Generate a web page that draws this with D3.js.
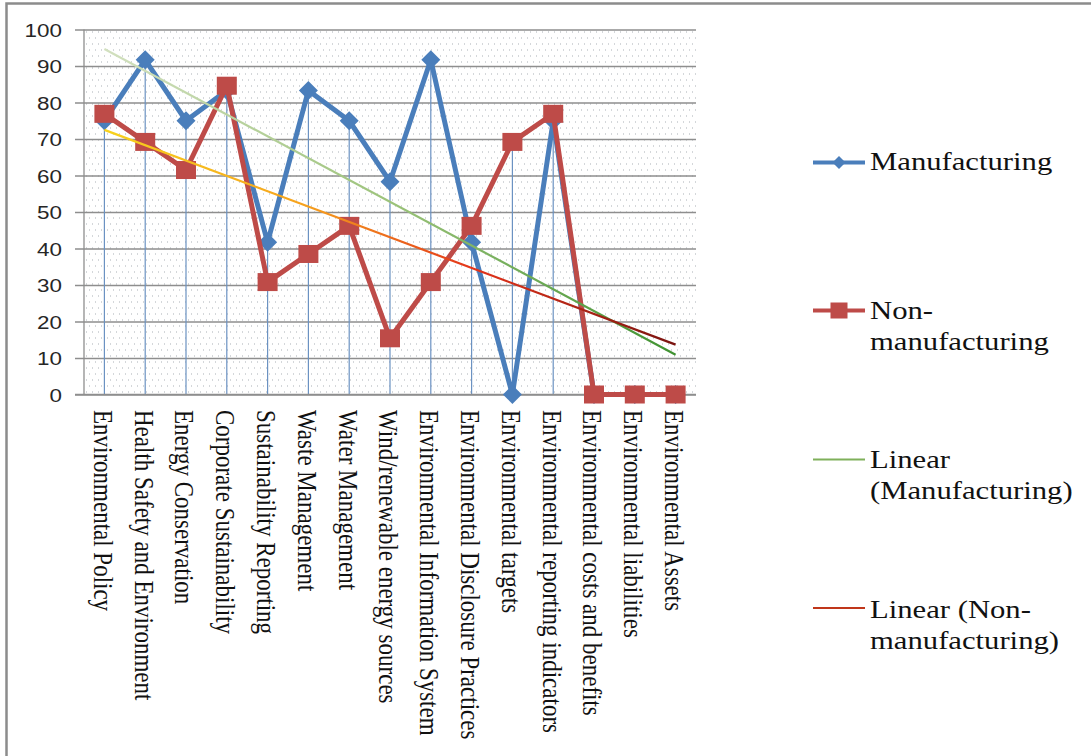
<!DOCTYPE html>
<html>
<head>
<meta charset="utf-8">
<script src="https://cdn.jsdelivr.net/npm/d3@7"></script>
<style>
  html, body { margin: 0; padding: 0; background: #ffffff; }
  svg { display: block; }
</style>
</head>
<body>
<svg id="chart" width="1091" height="756"></svg>
<script>
// Disclosure topics on the category axis
const categories = [
  "Environmental Policy",
  "Health Safety and Environment",
  "Energy Conservation",
  "Corporate Sustainability",
  "Sustainability Reporting",
  "Waste Management",
  "Water Management",
  "Wind/renewable energy sources",
  "Environmental Information System",
  "Environmental Disclosure Practices",
  "Environmental targets",
  "Environmental reporting indicators",
  "Environmental costs and benefits",
  "Environmental liabilities",
  "Environmental Assets"
];

// Percentage of firms disclosing each topic
const manufacturing = [75, 91.7, 75, 83.3, 41.7, 83.3, 75, 58.3, 91.7, 41.7, 0, 75, 0, 0, 0];
const nonManufacturing = [76.9, 69.2, 61.5, 84.6, 30.8, 38.5, 46.2, 15.4, 30.8, 46.2, 69.2, 76.9, 0, 0, 0];

const yTicks = [0, 10, 20, 30, 40, 50, 60, 70, 80, 90, 100];

const legendLabels = {
  manufacturing: ["Manufacturing"],
  nonManufacturing: ["Non-", "manufacturing"],
  linearManufacturing: ["Linear", "(Manufacturing)"],
  linearNonManufacturing: ["Linear (Non-", "manufacturing)"]
};

// ---- layout ----
const plot = { left: 84, right: 696, top: 29.5, bottom: 394.5 };
const SX = 1.18; // horizontal text stretch

const svg = d3.select("#chart");

const x = d3.scalePoint().domain(categories).range([plot.left, plot.right]).padding(0.5);
const y = d3.scaleLinear().domain([0, 100]).range([plot.bottom, plot.top]);

const defs = svg.append("defs");

// dotted fill of the plot area
const pat = defs.append("pattern")
  .attr("id", "dots")
  .attr("patternUnits", "userSpaceOnUse")
  .attr("x", plot.left).attr("y", plot.top)
  .attr("width", 6).attr("height", 12);
pat.append("rect").attr("width", 6).attr("height", 12).attr("fill", "#ffffff");
pat.append("rect").attr("x", 2).attr("y", 2).attr("width", 1).attr("height", 1).attr("fill", "#a9aeb4");
pat.append("rect").attr("x", 5).attr("y", 8).attr("width", 1).attr("height", 1).attr("fill", "#a9aeb4");

// least-squares trend over the category index
function linearFit(vals) {
  const n = vals.length;
  const xm = d3.mean(vals, (_, i) => i);
  const ym = d3.mean(vals);
  let sxy = 0, sxx = 0;
  vals.forEach((v, i) => { sxy += (i - xm) * (v - ym); sxx += (i - xm) * (i - xm); });
  const slope = sxy / sxx;
  const icpt = ym - slope * xm;
  return [0, n - 1].map(i => ({ i, v: icpt + slope * i }));
}

const xFirst = x(categories[0]);
const xLast = x(categories[categories.length - 1]);

function gradient(id, stops) {
  const g = defs.append("linearGradient")
    .attr("id", id)
    .attr("gradientUnits", "userSpaceOnUse")
    .attr("x1", xFirst).attr("x2", xLast).attr("y1", 0).attr("y2", 0);
  stops.forEach(s => g.append("stop").attr("offset", s[0]).attr("stop-color", s[1]));
}
gradient("trendGreen", [[0, "#d2e0bf"], [0.5, "#9cc37a"], [1, "#3f9231"]]);
gradient("trendRed", [[0, "#f7d21c"], [0.35, "#f6a21e"], [0.65, "#e3331a"], [1, "#7a1410"]]);

// outer frame
svg.append("rect")
  .attr("x", 6.5).attr("y", 3.5)
  .attr("width", 1200).attr("height", 900)
  .attr("fill", "#ffffff")
  .attr("stroke", "#8c8c8c").attr("stroke-width", 2.5);

// plot background
svg.append("rect")
  .attr("x", plot.left).attr("y", plot.top)
  .attr("width", plot.right - plot.left).attr("height", plot.bottom - plot.top)
  .attr("fill", "url(#dots)");

// value axis with gridlines
const yAxis = svg.append("g")
  .attr("transform", `translate(${plot.left},0)`)
  .call(d3.axisLeft(y).tickValues(yTicks).tickSizeOuter(0).tickPadding(0));
yAxis.select(".domain").remove();
yAxis.selectAll(".tick line")
  .attr("x1", -9).attr("x2", plot.right - plot.left)
  .attr("stroke", "#8e8e8e").attr("stroke-width", 1.3);
yAxis.selectAll(".tick text")
  .attr("x", -22 / SX)
  .attr("dy", "0.36em")
  .attr("transform", `scale(${SX},1)`)
  .attr("font-family", "'Liberation Sans', Arial, sans-serif")
  .attr("font-size", 19)
  .attr("fill", "#262626");

svg.append("line")
  .attr("x1", plot.left).attr("x2", plot.left)
  .attr("y1", plot.top).attr("y2", plot.bottom)
  .attr("stroke", "#8e8e8e").attr("stroke-width", 1.3);

// drop lines from the higher value to the axis
const drops = categories.map((c, i) => ({ c, top: Math.max(manufacturing[i], nonManufacturing[i]) }))
  .filter(d => d.top > 0);
svg.append("g").selectAll("line").data(drops).join("line")
  .attr("x1", d => x(d.c)).attr("x2", d => x(d.c))
  .attr("y1", d => y(d.top)).attr("y2", y(0))
  .attr("stroke", "#6b92c2").attr("stroke-width", 1.2);

// category axis
const xAxis = svg.append("g")
  .attr("transform", `translate(0,${plot.bottom})`)
  .call(d3.axisBottom(x).tickSize(0).tickPadding(0));
xAxis.select(".domain")
  .attr("d", `M${plot.left - 9},0H${plot.right}`)
  .attr("stroke", "#8e8e8e").attr("stroke-width", 1.3);
xAxis.selectAll(".tick text")
  .attr("x", null).attr("y", null)
  .attr("dy", "0.41em")
  .attr("text-anchor", "start")
  .attr("transform", `translate(0,15.5) scale(${SX},1) rotate(90)`)
  .attr("font-family", "'Liberation Serif', 'Times New Roman', serif")
  .attr("font-size", 23)
  .attr("fill", "#111");

// series
const line = d3.line().x((d, i) => x(categories[i])).y(d => y(d));

const blue = "#4a7ebb", red = "#be4b48";

svg.append("path").datum(manufacturing)
  .attr("d", line).attr("fill", "none")
  .attr("stroke", blue).attr("stroke-width", 5).attr("stroke-linejoin", "round");
svg.append("g").selectAll("path").data(manufacturing).join("path")
  .attr("transform", (d, i) => `translate(${x(categories[i])},${y(d)})`)
  .attr("d", "M0,-9.5L9.5,0L0,9.5L-9.5,0Z")
  .attr("fill", blue);

svg.append("path").datum(nonManufacturing)
  .attr("d", line).attr("fill", "none")
  .attr("stroke", red).attr("stroke-width", 5).attr("stroke-linejoin", "round");
svg.append("g").selectAll("rect").data(nonManufacturing).join("rect")
  .attr("x", (d, i) => x(categories[i]) - 10)
  .attr("y", d => y(d) - 9)
  .attr("width", 20).attr("height", 18)
  .attr("fill", red);

// linear trend lines
const trendLine = d3.line().x(d => x(categories[d.i])).y(d => y(d.v));
svg.append("path").datum(linearFit(manufacturing))
  .attr("d", trendLine).attr("fill", "none")
  .attr("stroke", "url(#trendGreen)").attr("stroke-width", 2.2);
svg.append("path").datum(linearFit(nonManufacturing))
  .attr("d", trendLine).attr("fill", "none")
  .attr("stroke", "url(#trendRed)").attr("stroke-width", 2.2);

// legend
const legend = svg.append("g");
const lx0 = 813, lx1 = 865, tx = 870, lineGap = 31.5;

function legendText(lines, baseline) {
  lines.forEach((t, k) => {
    legend.append("text")
      .attr("transform", `translate(${tx},${baseline + k * lineGap}) scale(${SX},1)`)
      .attr("font-family", "'Liberation Serif', 'Times New Roman', serif")
      .attr("font-size", 26)
      .attr("fill", "#111")
      .text(t);
  });
}

// Manufacturing
legend.append("line").attr("x1", lx0).attr("x2", lx1).attr("y1", 162.5).attr("y2", 162.5)
  .attr("stroke", blue).attr("stroke-width", 4);
legend.append("path").attr("transform", "translate(839,162.5)")
  .attr("d", "M0,-6.5L6.5,0L0,6.5L-6.5,0Z").attr("fill", blue);
legendText(legendLabels.manufacturing, 169.5);

// Non-manufacturing
legend.append("line").attr("x1", lx0).attr("x2", lx1).attr("y1", 310.5).attr("y2", 310.5)
  .attr("stroke", red).attr("stroke-width", 4);
legend.append("rect").attr("x", 830.5).attr("y", 302.5).attr("width", 17).attr("height", 16).attr("fill", red);
legendText(legendLabels.nonManufacturing, 318.5);

// Linear (Manufacturing)
legend.append("line").attr("x1", lx0).attr("x2", lx1).attr("y1", 459.5).attr("y2", 459.5)
  .attr("stroke", "#7fb05a").attr("stroke-width", 2);
legendText(legendLabels.linearManufacturing, 467.5);

// Linear (Non-manufacturing)
legend.append("line").attr("x1", lx0).attr("x2", lx1).attr("y1", 608).attr("y2", 608)
  .attr("stroke", "#c0361a").attr("stroke-width", 2);
legendText(legendLabels.linearNonManufacturing, 617.5);
</script>
</body>
</html>
